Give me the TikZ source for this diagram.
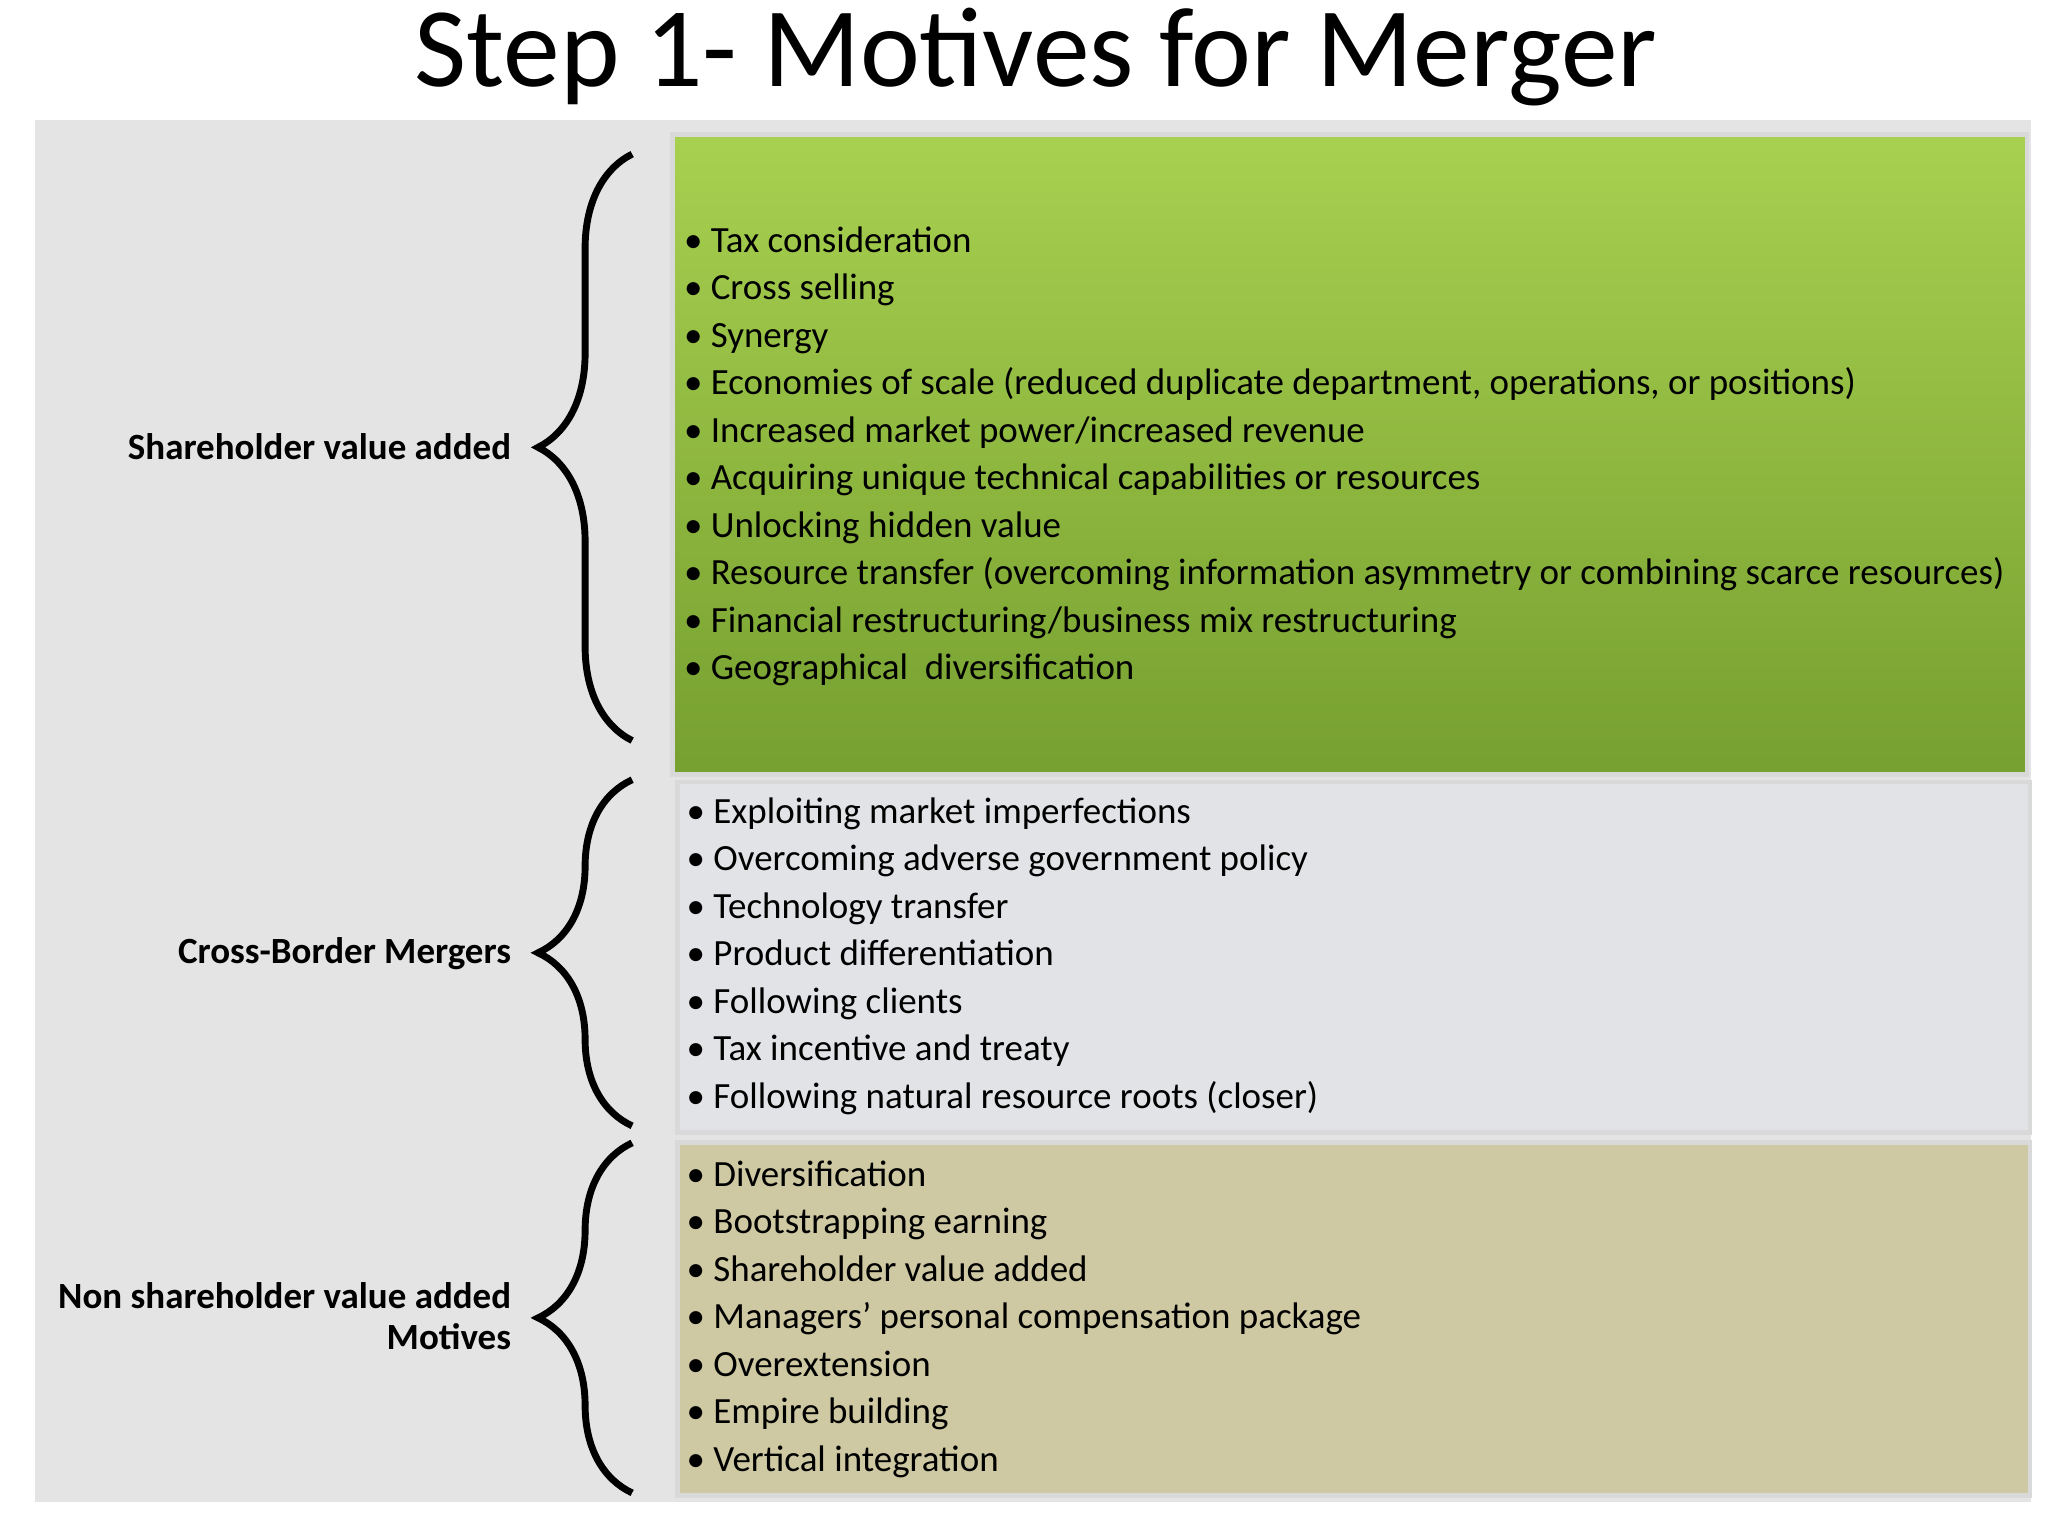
\documentclass[tikz,border=0pt]{standalone}
\usepackage{fontspec}
\setmainfont{Carlito}
\usetikzlibrary{decorations.pathreplacing}
\definecolor{gtop}{HTML}{A8D050}
\definecolor{gbot}{HTML}{76A030}
\definecolor{graybox}{HTML}{E2E3E6}
\definecolor{tanbox}{HTML}{CEC9A2}
\definecolor{marble}{HTML}{E4E4E4}
\begin{document}
\begin{tikzpicture}[x=0.01cm,y=-0.01cm,
  lst/.style={anchor=north west,inner sep=0pt,align=left,font=\fontsize{8.05}{10.33}\selectfont},
  lab/.style={anchor=east,inner sep=0pt,align=right,font=\fontsize{8.05}{8.9}\selectfont\bfseries},
  br/.style={decorate,decoration={brace,amplitude=0.72cm,mirror},line width=1.5pt},
  bx/.style={draw=white!70!gray,line width=1pt}]
\useasboundingbox (0,0) rectangle (1568,1176);
\fill[white] (0,0) rectangle (1568,1176);
\node[inner sep=0pt,font=\fontsize{24.7}{26}\selectfont] (title) at (793,44) {Step 1- Motives for Merger};
\fill[marble] (27,92) rectangle (1555,1150);
\shade[top color=gtop,bottom color=gbot,bx] (515,103) rectangle (1552,593);
\node[bx,fill=graybox,minimum width=10.35cm,minimum height=2.68cm,anchor=north west,inner sep=0pt] (b2) at (517,597) {};
\node[bx,fill=tanbox,minimum width=10.35cm,minimum height=2.70cm,anchor=north west,inner sep=0pt] (b3) at (517,873) {};
\node[lst] (l1) at (523,173) {• Tax consideration\\• Cross selling\\• Synergy\\• Economies of scale (reduced duplicate department, operations, or positions)\\• Increased market power/increased revenue\\• Acquiring unique technical capabilities or resources\\• Unlocking hidden value\\• Resource transfer (overcoming information asymmetry or combining scarce resources)\\• Financial restructuring/business mix restructuring\\• Geographical\ \ diversification};
\node[lst] (l2) at (525,610) {• Exploiting market imperfections\\• Overcoming adverse government policy\\• Technology transfer\\• Product differentiation\\• Following clients\\• Tax incentive and treaty\\• Following natural resource roots (closer)};
\node[lst] (l3) at (525,888) {• Diversification\\• Bootstrapping earning\\• Shareholder value added\\• Managers’ personal compensation package\\• Overextension\\• Empire building\\• Vertical integration};
\coordinate (a1) at (484,118); \coordinate (a2) at (484,567);
\coordinate (c1) at (484,597); \coordinate (c2) at (484,862);
\coordinate (d1) at (484,875); \coordinate (d2) at (484,1143);
\draw[br] (a1) -- (a2);
\draw[br] (c1) -- (c2);
\draw[br] (d1) -- (d2);
\node[lab] (s1) at (392,342) {Shareholder value added};
\node[lab] (s2) at (392,730) {Cross-Border Mergers};
\node[lab] (s3) at (392,1008) {Non shareholder value added\\Motives};
\end{tikzpicture}
\end{document}
